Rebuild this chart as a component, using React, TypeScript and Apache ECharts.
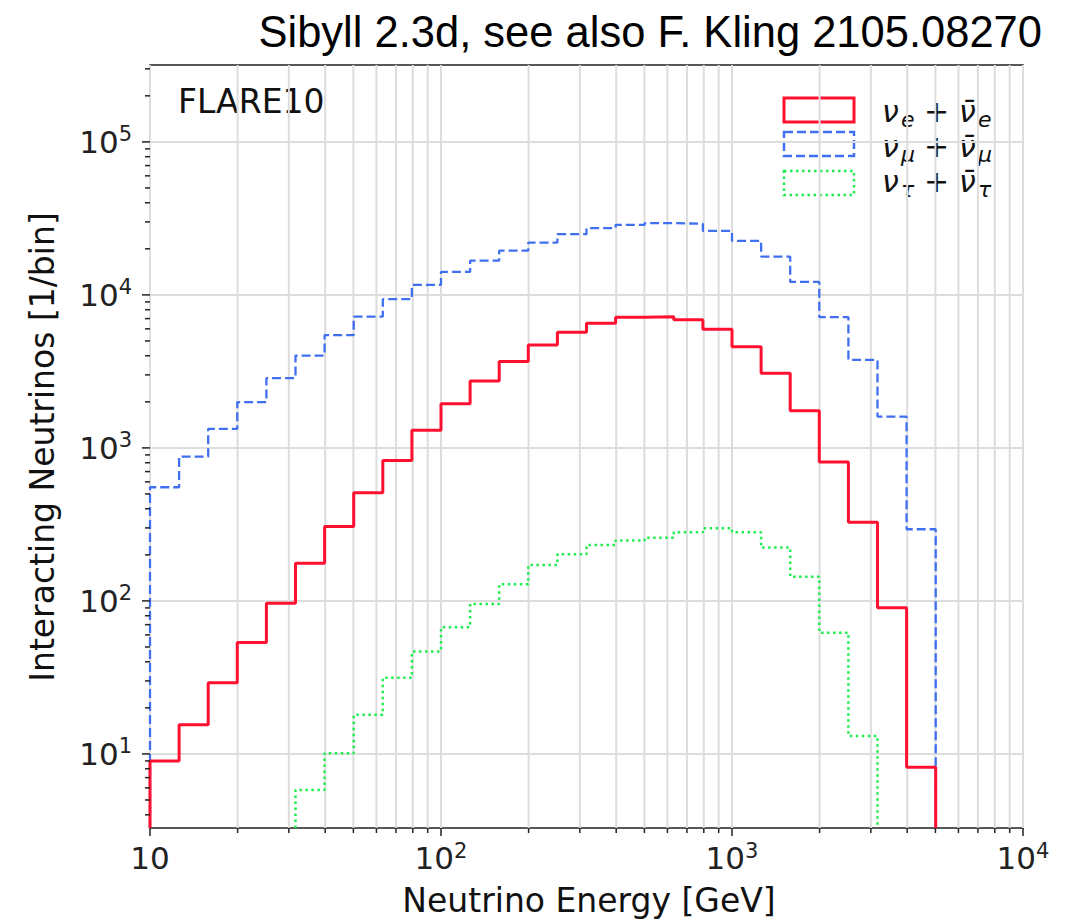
import React, { useEffect, useRef } from "react";
import * as echarts from "echarts";

// ---- data ----
const binEdges = [
  10, 12.59, 15.85, 19.95, 25.12, 31.62, 39.81, 50.12, 63.1, 79.43,
  100, 125.9, 158.5, 199.5, 251.2, 316.2, 398.1, 501.2, 631.0, 794.3,
  1000, 1259, 1585, 1995, 2512, 3162, 3981, 5012,
];
const nuE = [
  9.0, 15.5, 29.2, 53.4, 96.6, 176, 306, 510, 826, 1306, 1942, 2741, 3666, 4710,
  5700, 6530, 7150, 7210, 6870, 5970, 4590, 3077, 1746, 809, 327, 90.3, 8.19,
];
const nuMu = [
  553, 877, 1332, 1991, 2860, 4012, 5455, 7217, 9370, 11620, 14130, 16760, 19480,
  21980, 24940, 27300, 28700, 29440, 29130, 26190, 22550, 17800, 12160, 7150,
  3758, 1603, 294,
];
const nuTauStartBin = 5;
const nuTau = [
  5.82, 10.1, 18.0, 31.5, 46.7, 67.3, 95.5, 128.4, 171.8, 202, 232, 248, 259,
  281, 299, 281, 223, 144, 62, 13.1,
];
const xMajorTicks = [10, 100, 1000, 10000];
const yMajorTicks = [10, 100, 1000, 10000, 100000];
const decades = [1, 10, 100, 1000, 10000, 100000];
const minorMultipliers = [2, 3, 4, 5, 6, 7, 8, 9];
const titleText = "Sibyll 2.3d, see also F. Kling 2105.08270";
const annotation = "FLARE10";
const xName = "Neutrino Energy [GeV]";
const yName = "Interacting Neutrinos [1/bin]";
const legendSubs = ["e", "μ", "τ"];

const X_MIN = 10;
const X_MAX = 10000;
const Y_MIN = 3.28;
const Y_MAX = 318000;

const RED = "#ff1030";
const BLUE = "#4070f0";
const GREEN = "#20ee50";
const FONT = "DejaVu Sans";

function stepPoints(vals: number[], start: number) {
  const pts: number[][] = [[binEdges[start], Y_MIN]];
  vals.forEach((v, i) => {
    pts.push([binEdges[start + i], v]);
    pts.push([binEdges[start + i + 1], v]);
  });
  pts.push([binEdges[start + vals.length], Y_MIN]);
  return pts;
}

function isPow10(v: number) {
  const l = Math.log10(v);
  return Math.abs(l - Math.round(l)) < 1e-6;
}

export default function App() {
  const ref = useRef<HTMLDivElement>(null);
  useEffect(() => {
    if (!ref.current) return;
    const chart = echarts.init(ref.current, null, { renderer: "svg" });

    const xMinor: number[] = [];
    decades.forEach((d) =>
      minorMultipliers.forEach((m) => {
        const v = d * m;
        if (v > X_MIN && v < X_MAX) xMinor.push(v);
      })
    );
    const yMinor: number[] = [];
    decades.forEach((d) =>
      minorMultipliers.forEach((m) => {
        const v = d * m;
        if (v > Y_MIN && v < Y_MAX) yMinor.push(v);
      })
    );
    const xGridVals = [...xMajorTicks, ...xMinor];
    const xTickData = [
      ...xMajorTicks.map((v) => [v, Y_MIN, 1]),
      ...xMinor.map((v) => [v, Y_MIN, 0]),
    ];
    const yTickData = [
      ...yMajorTicks.map((v) => [X_MIN, v, 1]),
      ...yMinor.map((v) => [X_MIN, v, 0]),
    ];

    const richLabel = {
      b: { fontFamily: FONT, fontSize: 31, color: "#222", lineHeight: 36 },
      s: {
        fontFamily: FONT,
        fontSize: 21,
        color: "#222",
        lineHeight: 21,
        verticalAlign: "top" as const,
      },
    };

    const legendStyles = [
      { stroke: RED, lineWidth: 3, lineDash: null as any },
      { stroke: BLUE, lineWidth: 2.5, lineDash: [9, 4] },
      { stroke: GREEN, lineWidth: 2.5, lineDash: [2.5, 3.5] },
    ];
    const legendRectY = [98, 132, 171];
    const legendTextY = [111, 146, 181];

    const graphics: any[] = [
      {
        type: "text",
        right: 35,
        top: 10,
        style: {
          text: titleText,
          fontFamily: "Liberation Sans",
          fontSize: 43.5,
          fill: "#000",
        },
      },
      {
        type: "text",
        x: 178,
        y: 101,
        style: {
          text: annotation,
          fontFamily: FONT,
          fontSize: 33,
          fill: "#111",
          verticalAlign: "middle",
        },
      },
      {
        type: "text",
        x: 589,
        y: 900,
        style: {
          text: xName,
          fontFamily: FONT,
          fontSize: 33,
          fill: "#111",
          align: "center",
          verticalAlign: "middle",
        },
      },
      {
        type: "text",
        x: 42,
        y: 447,
        rotation: Math.PI / 2,
        style: {
          text: yName,
          fontFamily: FONT,
          fontSize: 33,
          fill: "#111",
          align: "center",
          verticalAlign: "middle",
        },
      },
    ];
    const mainText = (text: string, x: number, y: number, italic: boolean) => ({
      type: "text",
      x,
      y,
      style: {
        text,
        fontFamily: FONT,
        fontStyle: italic ? "italic" : "normal",
        fontSize: 30,
        fill: "#111",
        verticalAlign: "middle",
      },
    });
    const subText = (text: string, x: number, y: number) => ({
      type: "text",
      x,
      y,
      style: {
        text,
        fontFamily: FONT,
        fontStyle: "italic",
        fontSize: 22,
        fill: "#111",
        verticalAlign: "middle",
      },
    });
    legendSubs.forEach((sub, i) => {
      graphics.push({
        type: "rect",
        shape: { x: 784, y: legendRectY[i], width: 70, height: 24 },
        style: {
          fill: "none",
          stroke: legendStyles[i].stroke,
          lineWidth: legendStyles[i].lineWidth,
          lineDash: legendStyles[i].lineDash,
        },
      });
      const cy = legendTextY[i];
      graphics.push(mainText("ν", 882, cy, true));
      graphics.push(subText(sub, 901, cy + 8));
      graphics.push(mainText("+", 924, cy, false));
      graphics.push(mainText("ν̄", 959, cy, true));
      graphics.push(subText(sub, 978, cy + 8));
    });

    const gridLine = (isX: boolean) => (params: any, api: any) => {
      const v = api.value(isX ? 0 : 1);
      const a = isX ? api.coord([v, Y_MIN]) : api.coord([X_MIN, v]);
      const b = isX ? api.coord([v, Y_MAX]) : api.coord([X_MAX, v]);
      return {
        type: "line",
        shape: { x1: a[0], y1: a[1], x2: b[0], y2: b[1] },
        style: { stroke: "#dddddd", lineWidth: 2 },
      };
    };
    const tickLine = (isX: boolean) => (params: any, api: any) => {
      const major = api.value(2) === 1;
      const len = major ? 8 : 5;
      const a = api.coord([api.value(0), api.value(1)]);
      return {
        type: "line",
        shape: isX
          ? { x1: a[0], y1: a[1], x2: a[0], y2: a[1] + len }
          : { x1: a[0], y1: a[1], x2: a[0] - len, y2: a[1] },
        style: { stroke: "#222", lineWidth: 1.5 },
      };
    };

    const option: any = {
      animation: false,
      backgroundColor: "#ffffff",
      grid: {
        left: 150,
        top: 65,
        right: 54,
        bottom: 92,
        show: true,
        borderColor: "#222",
        borderWidth: 1.5,
        backgroundColor: "transparent",
        outerBoundsMode: "none",
      },
      xAxis: {
        type: "log",
        logBase: 10,
        min: X_MIN,
        max: X_MAX,
        axisLine: { show: false },
        axisTick: { show: false },
        splitLine: { show: false },
        minorTick: { show: false },
        axisLabel: {
          margin: 12,
          formatter: (v: number) => {
            if (!isPow10(v)) return "";
            const e = Math.round(Math.log10(v));
            return e === 1 ? "{b|10}" : `{b|10}{s|${e}}`;
          },
          rich: richLabel,
        },
      },
      yAxis: {
        type: "log",
        logBase: 10,
        min: Y_MIN,
        max: Y_MAX,
        axisLine: { show: false },
        axisTick: { show: false },
        splitLine: { show: false },
        minorTick: { show: false },
        axisLabel: {
          margin: 18,
          showMinLabel: false,
          showMaxLabel: false,
          formatter: (v: number) => {
            if (!isPow10(v)) return "";
            const e = Math.round(Math.log10(v));
            return `{b|10}{s|${e}}`;
          },
          rich: richLabel,
        },
      },
      graphic: graphics,
      series: [
        {
          type: "custom",
          coordinateSystem: "cartesian2d",
          silent: true,
          z: 1,
          data: xGridVals.map((v) => [v, Y_MIN]),
          renderItem: gridLine(true),
        },
        {
          type: "custom",
          coordinateSystem: "cartesian2d",
          silent: true,
          z: 1,
          data: yMajorTicks.map((v) => [X_MIN, v]),
          renderItem: gridLine(false),
        },
        {
          type: "custom",
          coordinateSystem: "cartesian2d",
          silent: true,
          z: 5,
          data: xTickData,
          renderItem: tickLine(true),
        },
        {
          type: "custom",
          coordinateSystem: "cartesian2d",
          silent: true,
          z: 5,
          data: yTickData,
          renderItem: tickLine(false),
        },
        {
          type: "line",
          name: "nu_tau",
          data: stepPoints(nuTau, nuTauStartBin),
          showSymbol: false,
          symbol: "none",
          z: 3,
          lineStyle: { color: GREEN, width: 2.5, type: [2.5, 3.5] },
        },
        {
          type: "line",
          name: "nu_mu",
          data: stepPoints(nuMu, 0),
          showSymbol: false,
          symbol: "none",
          z: 3,
          lineStyle: { color: BLUE, width: 2.3, type: [9, 4] },
        },
        {
          type: "line",
          name: "nu_e",
          data: stepPoints(nuE, 0),
          showSymbol: false,
          symbol: "none",
          z: 4,
          lineStyle: { color: RED, width: 3 },
        },
      ],
    };
    chart.setOption(option);
    return () => chart.dispose();
  }, []);
  return (
    <div
      ref={ref}
      style={{ position: "fixed", left: 0, top: 0, width: 1077, height: 920, background: "#fff" }}
    />
  );
}
